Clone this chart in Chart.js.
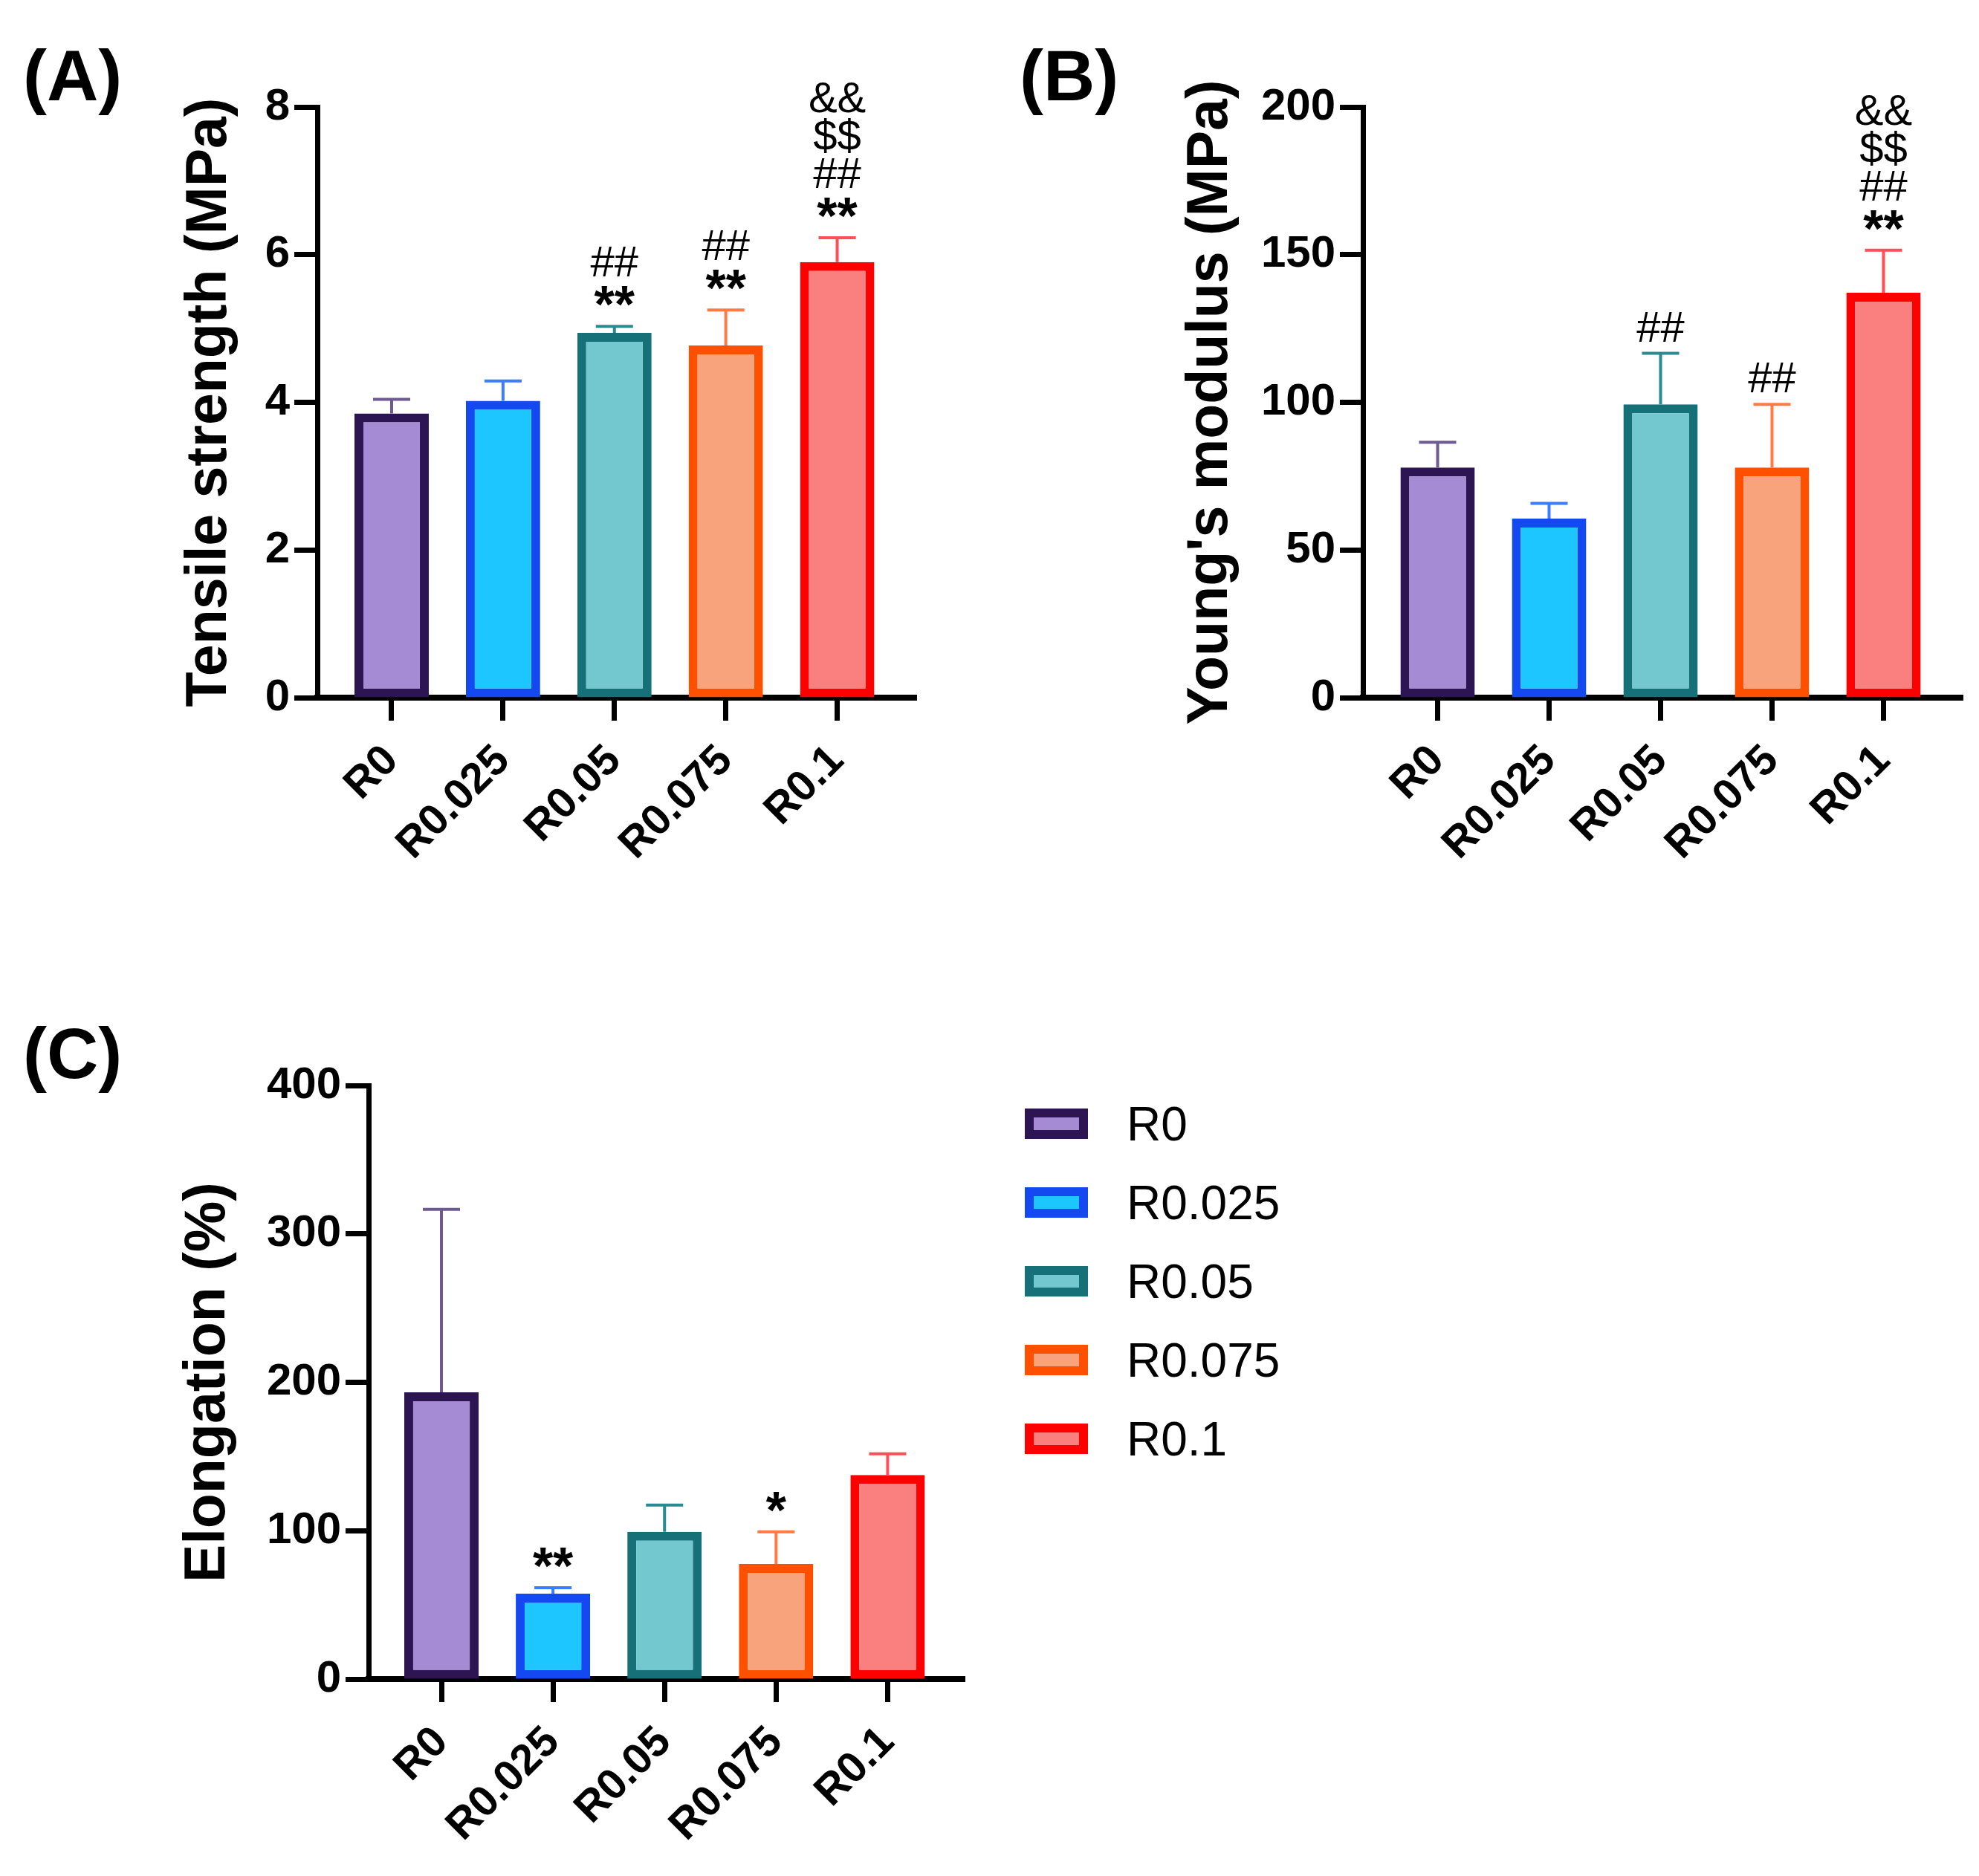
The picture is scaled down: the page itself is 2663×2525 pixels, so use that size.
<!DOCTYPE html>
<html>
<head>
<meta charset="utf-8">
<script src="https://cdn.jsdelivr.net/npm/chart.js@4.4.1/dist/chart.umd.min.js"></script>
<style>
  html, body { margin: 0; padding: 0; background: #fff; }
  #page { position: relative; width: 2663px; height: 2525px; font-family: "Liberation Sans", Arial, sans-serif; color: #000; }
  .panel-label { position: absolute; font-weight: bold; font-size: 96px; line-height: 96px; }
  .holder { position: absolute; }
  .legend-row { position: absolute; display: flex; align-items: center; height: 41px; }
  .legend-box { width: 85px; height: 41px; box-sizing: border-box; border: 12px solid; }
  .legend-text { margin-left: 52px; font-size: 64px; line-height: 64px; white-space: nowrap; }
</style>
</head>
<body>
<div id="page">
  <div class="panel-label" style="left:31px; top:54px">(A)</div>
  <div class="panel-label" style="left:1372px; top:54px">(B)</div>
  <div class="panel-label" style="left:31px; top:1370px">(C)</div>

  <div class="holder" style="left:0; top:0"><canvas id="chartA" width="1300" height="1250"></canvas></div>
  <div class="holder" style="left:1340px; top:0"><canvas id="chartB" width="1323" height="1250"></canvas></div>
  <div class="holder" style="left:0; top:1300px"><canvas id="chartC" width="1340" height="1225"></canvas></div>
  <div id="legend"></div>
</div>

<script>
// groups and colours
const groups = ['R0', 'R0.025', 'R0.05', 'R0.075', 'R0.1'];
const fillColors = ['#A58BD4', '#1EC6FF', '#72C8CE', '#F9A37C', '#FA8080'];
const borderColors = ['#2D1452', '#1448F0', '#157078', '#FF5000', '#FF0000'];
const errColors = ['#6E5A90', '#3D7BFF', '#2A8A92', '#FF7A45', '#FF4E58'];

// (A) tensile strength, MPa
const tensile = [3.85, 4.02, 4.94, 4.77, 5.90];
const tensileSd = [0.19, 0.27, 0.09, 0.48, 0.33];
const tensileMarks = [[], [], ['**', '##'], ['**', '##'], ['**', '##', '$$', '&&']];
const tensileTicks = [0, 2, 4, 6, 8];

// (B) Young's modulus, MPa
const modulus = [77.9, 60.6, 99.3, 77.9, 137.1];
const modulusSd = [8.6, 5.2, 17.3, 21.4, 14.4];
const modulusMarks = [[], [], ['##'], ['##'], ['**', '##', '$$', '&&']];
const modulusTicks = [0, 50, 100, 150, 200];

// (C) elongation, %
const elongation = [193.3, 57.6, 99.2, 77.6, 137.6];
const elongationSd = [123.2, 4.0, 18.1, 21.6, 14.2];
const elongationMarks = [[], ['**'], [], ['*'], []];
const elongationTicks = [0, 100, 200, 300, 400];

const FONT = '"Liberation Sans", Arial, sans-serif';
Chart.defaults.font.family = FONT;
Chart.defaults.color = '#000';

// SD whiskers (upper only) plus the significance symbols above them
const errorBars = {
  id: 'errorBars',
  afterDatasetsDraw(chart, args, opts) {
    const ctx = chart.ctx;
    const y = chart.scales.y;
    const points = chart.data.datasets[0].data;
    ctx.save();
    chart.getDatasetMeta(0).data.forEach((bar, i) => {
      const v = points[i].y;
      const yTop = y.getPixelForValue(v);
      const yErr = y.getPixelForValue(v + opts.sd[i]);
      ctx.strokeStyle = errColors[i];
      ctx.lineWidth = 4;
      ctx.beginPath();
      ctx.moveTo(bar.x, yTop);
      ctx.lineTo(bar.x, yErr);
      ctx.moveTo(bar.x - 25, yErr);
      ctx.lineTo(bar.x + 25, yErr);
      ctx.stroke();

      ctx.fillStyle = '#000';
      ctx.textAlign = 'center';
      ctx.textBaseline = 'alphabetic';
      opts.marks[i].forEach((m, k) => {
        const base = yErr - 16 - k * 51;
        if (m[0] === '*') {
          // asterisks are drawn larger, as in the original figure
          ctx.font = 'bold 70px ' + FONT;
          ctx.fillText(m, bar.x, base + 11);
        } else {
          ctx.font = '58px ' + FONT;
          ctx.fillText(m, bar.x, base);
        }
      });
    });
    ctx.restore();
  }
};

function axisGrid() {
  return {
    display: true,
    offset: false,
    drawOnChartArea: false,
    drawTicks: true,
    tickLength: 31,
    tickWidth: 7,
    tickColor: '#000'
  };
}

function makeChart(id, values, sd, marks, yTicks, title, cfg) {
  return new Chart(document.getElementById(id), {
    type: 'bar',
    data: {
      datasets: [{
        data: values.map((v, i) => ({ x: i, y: v })),
        backgroundColor: fillColors,
        borderColor: borderColors,
        borderWidth: 12,
        borderSkipped: false,
        categoryPercentage: 1,
        barPercentage: 0.667
      }]
    },
    options: {
      responsive: false,
      devicePixelRatio: 1,
      animation: false,
      layout: { padding: { left: 200, right: cfg.padRight, top: cfg.padTop, bottom: 0 } },
      plugins: {
        legend: { display: false },
        tooltip: { enabled: false },
        errorBars: { sd: sd, marks: marks }
      },
      scales: {
        x: {
          type: 'linear',
          offset: false,
          min: cfg.xMin,
          max: cfg.xMax,
          afterBuildTicks: s => { s.ticks = groups.map((g, i) => ({ value: i })); },
          afterFit: s => { s.height = cfg.xHeight; },
          ticks: {
            callback: v => groups[v],
            autoSkip: false,
            minRotation: 45,
            maxRotation: 45,
            padding: 20,
            color: '#000',
            font: { size: 58, weight: 'bold' }
          },
          grid: axisGrid(),
          border: { display: true, color: '#000', width: 8 }
        },
        y: {
          min: 0,
          max: yTicks[yTicks.length - 1],
          afterBuildTicks: s => { s.ticks = yTicks.map(v => ({ value: v })); },
          afterFit: s => { s.width = cfg.yWidth; },
          ticks: {
            padding: 6,
            color: '#000',
            font: { size: 60, weight: 'bold' }
          },
          grid: axisGrid(),
          border: { display: true, color: '#000', width: 7 },
          title: {
            display: true,
            text: title,
            color: '#000',
            font: { size: 77, weight: 'bold' },
            padding: { top: cfg.titlePad, bottom: 0 }
          }
        }
      }
    },
    plugins: [errorBars]
  });
}

makeChart('chartA', tensile, tensileSd, tensileMarks, tensileTicks, 'Tensile strength (MPa)',
  { xMin: -0.667, xMax: 4.71, padRight: 67, padTop: 144, xHeight: 311, yWidth: 227, titlePad: 37 });

makeChart('chartB', modulus, modulusSd, modulusMarks, modulusTicks, "Young's modulus (MPa)",
  { xMin: -0.67, xMax: 4.71, padRight: 22, padTop: 144, xHeight: 311, yWidth: 294, titlePad: 44 });

makeChart('chartC', elongation, elongationSd, elongationMarks, elongationTicks, 'Elongation (%)',
  { xMin: -0.653, xMax: 4.69, padRight: 42, padTop: 161, xHeight: 265, yWidth: 296, titlePad: 35 });

// legend for the group colours (next to panel C)
const legend = document.getElementById('legend');
groups.forEach((g, i) => {
  const row = document.createElement('div');
  row.className = 'legend-row';
  row.style.left = '1379px';
  row.style.top = (1492 + i * 106) + 'px';
  const box = document.createElement('div');
  box.className = 'legend-box';
  box.style.background = fillColors[i];
  box.style.borderColor = borderColors[i];
  const text = document.createElement('div');
  text.className = 'legend-text';
  text.textContent = g;
  row.appendChild(box);
  row.appendChild(text);
  legend.appendChild(row);
});
</script>
</body>
</html>
